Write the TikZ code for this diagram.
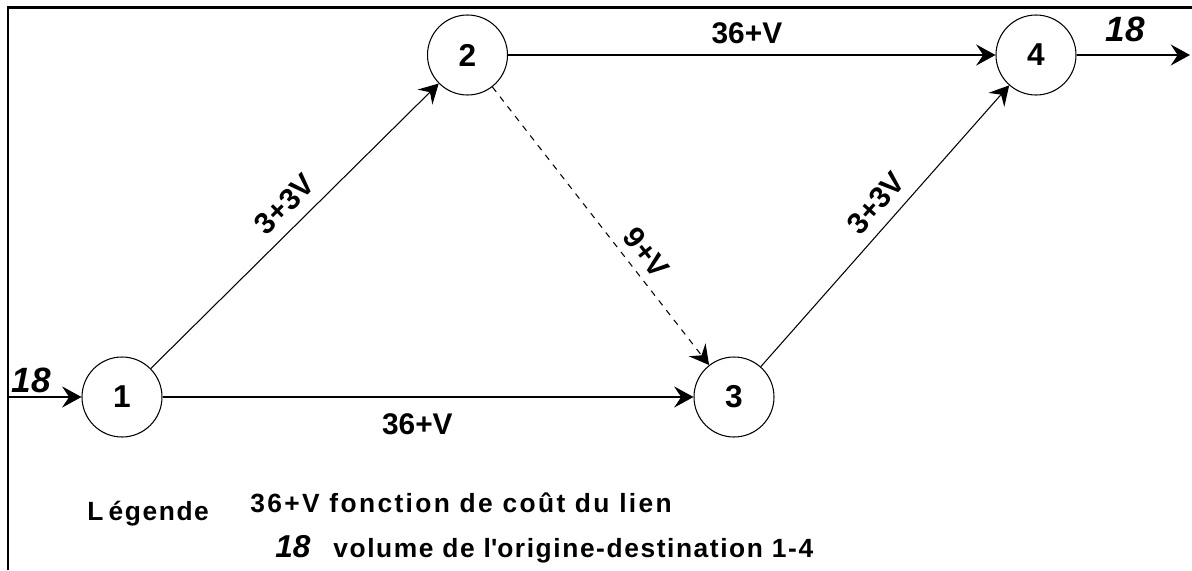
\documentclass[tikz,border=0pt]{standalone}
\usepackage{fontspec}
\setmainfont{Liberation Sans}
\usepackage{tikz}
\usetikzlibrary{arrows.meta}
\tikzset{
	citynode/.style={
			circle,
			draw=black,
			line width=0.6pt,
			fill=white,
			minimum size=16mm,
			inner sep=0pt,
			font=\fontsize{18}{20}\selectfont\bfseries
		},
	linkedge/.style={
			line width=0.6pt,
			-{Stealth[length=11pt, width=12pt, inset=4pt]}
		},
	costlabel/.style={
			font=\fontsize{17}{19}\selectfont\bfseries
		},
	flowlabel/.style={
			font=\fontsize{20}{22}\selectfont\bfseries\itshape,
			inner sep=1pt
		},
	legendtext/.style={
			font=\fontsize{15}{17}\selectfont\bfseries\addfontfeature{LetterSpace=6},
			inner sep=0pt,
			anchor=base west
		}
}

\begin{document}
\begin{tikzpicture}
\useasboundingbox (0,0) rectangle (23.84,-11.4);
\draw[line width=1.5pt] (0.16,-11.4) -- (0.16,-0.15) -- (23.84,-0.15);

\node[citynode] (n1) at (2.44,-7.94)  { 1 };
\node[citynode] (n2) at (9.35,-1.1)   { 2 };
\node[citynode] (n3) at (14.68,-7.94) { 3 };
\node[citynode] (n4) at (20.72,-1.1)  { 4 };

\coordinate (in) at (0.16,-7.94);
\coordinate (out) at (23.8,-1.1);

\draw[linkedge] (in) -- node[flowlabel, pos=0.32, above=1pt] {18} (n1);
\draw[linkedge] (n4) -- node[flowlabel, pos=0.43, above=6pt] {18} (out);

\draw[linkedge] (n1) -- node[costlabel, pos=0.52, sloped, above=3pt] {3+3V} (n2);
\draw[linkedge] (n1) -- node[costlabel, pos=0.48, below=6pt] {36+V} (n3);
\draw[linkedge] (n2) -- node[costlabel, pos=0.49, above=3pt] {36+V} (n4);
\draw[linkedge, dash pattern=on 3.5pt off 3.5pt] (n2) -- node[costlabel, pos=0.64, sloped, above=1.5pt] {9+V} (n3);
\draw[linkedge] (n3) -- node[costlabel, pos=0.53, sloped, above=3pt] {3+3V} (n4);

% legende
\node[legendtext] (leg) at (1.74,-10.4) {L\kern3pt égende};
\node[legendtext, font=\fontsize{15}{17}\selectfont\bfseries\addfontfeature{LetterSpace=9}] (legcost) at (5.0,-10.24) {36+V fonction de coût du lien};
\node[legendtext, font=\fontsize{18}{20}\selectfont\bfseries\itshape] (legflow) at (5.5,-11.14) {18};
\node[legendtext] (legvol) at (6.66,-11.14) {volume de l\textquotesingle origine-destination 1-4};
\end{tikzpicture}
\end{document}
